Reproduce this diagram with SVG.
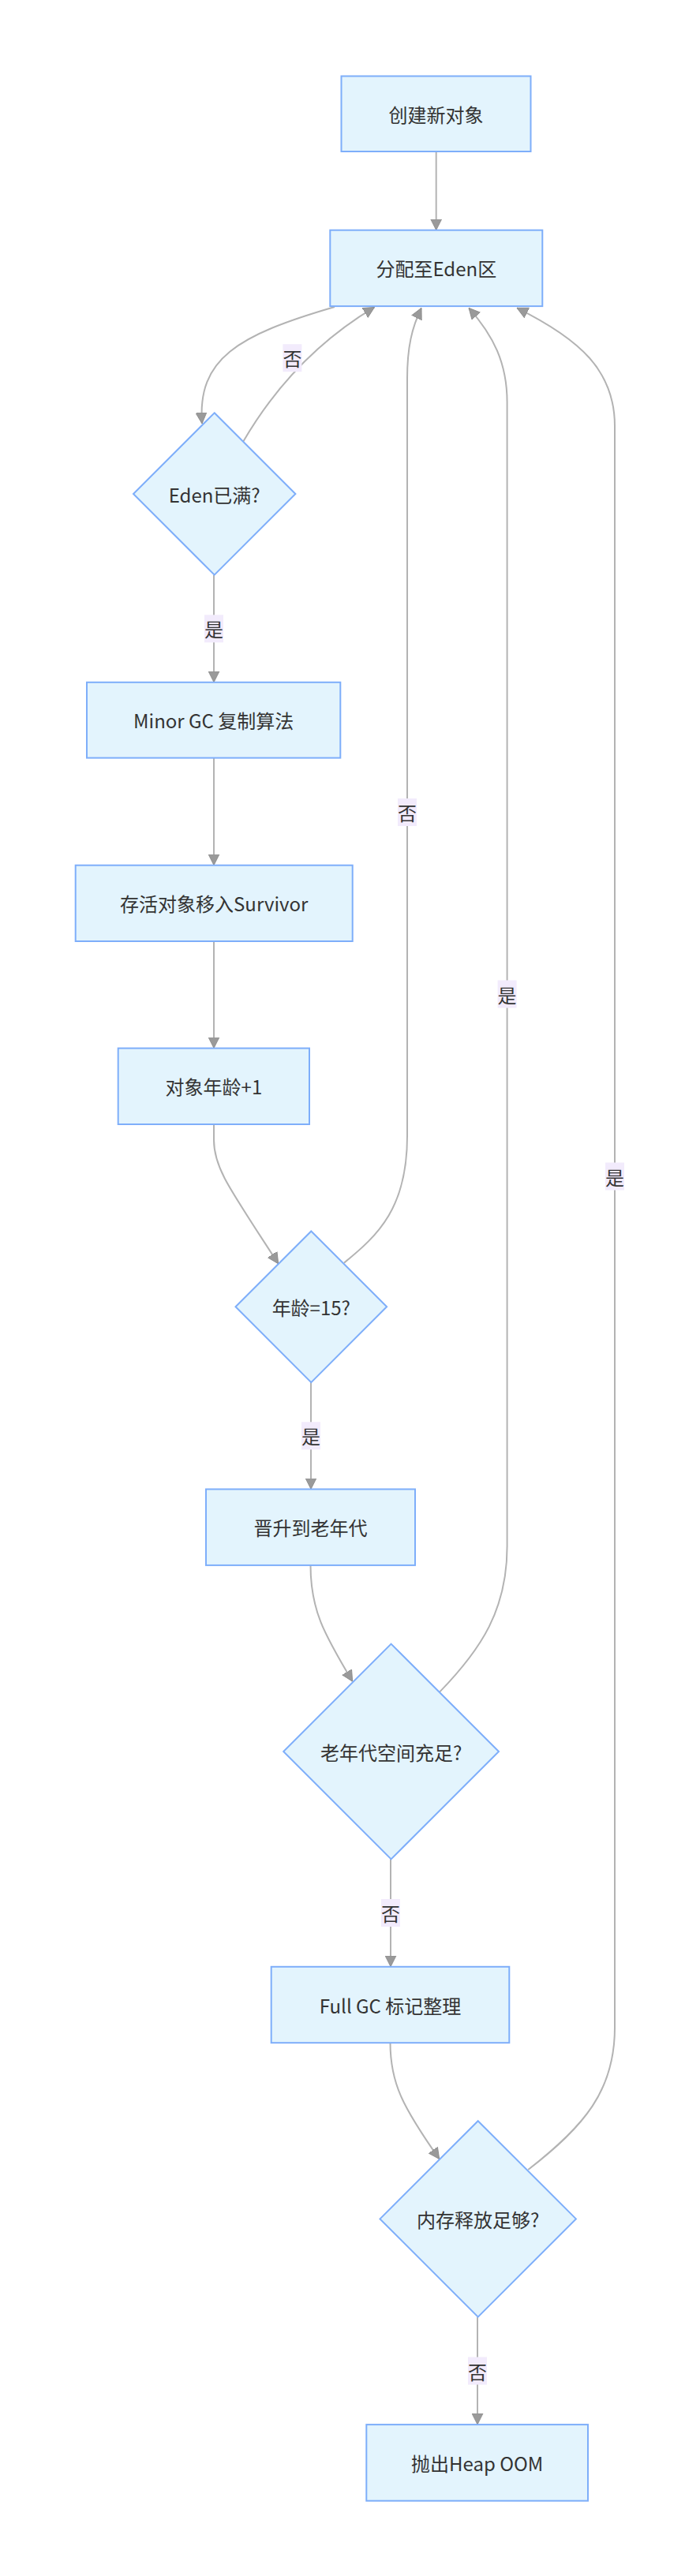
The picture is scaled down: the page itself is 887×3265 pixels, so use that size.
<svg xmlns="http://www.w3.org/2000/svg" width="887" height="3265" viewBox="0 0 887 3265">
<style>
.node rect, .node polygon { fill: #e3f4fd; stroke: #7eaefa; stroke-width: 2; }
.node text { font-family: "Noto Sans CJK SC", "Noto Sans", sans-serif; font-size: 24px; fill: #333333; text-anchor: middle; dominant-baseline: central; }
.edge { fill: none; stroke: #b3b3b3; stroke-width: 2; marker-end: url(#arrow); }
.lbl rect { fill: #f2ebfc; stroke: none; }
.lbl text { font-family: "Noto Sans CJK SC", "Noto Sans", sans-serif; font-size: 24px; fill: #333333; text-anchor: middle; dominant-baseline: central; }
</style>
<defs>
<marker id="arrow" viewBox="0 0 10 10" refX="10" refY="5" markerWidth="14" markerHeight="15" markerUnits="userSpaceOnUse" orient="auto">
<path d="M0,0 L10,5 L0,10 z" fill="#9a9a9a" stroke="#8a8a8a" stroke-width="0.6"/>
</marker>
</defs>
<rect x="0" y="0" width="887" height="3265" fill="#ffffff"/>
<g id="connectors">
<path class="edge" d="M552.7,192 L552.7,291.7"/>
<path class="edge" d="M424,389 C300,425 250,455 256,537"/>
<path class="edge" d="M308,560 C340,505 390,440 474.5,389.4"/>
<path class="edge" d="M271,728.7 L271,864.8"/>
<path class="edge" d="M271,960.6 L271,1096.7"/>
<path class="edge" d="M271,1193 L271,1328.6"/>
<path class="edge" d="M271,1425 L271,1445 C271,1480 290,1505 352.7,1601.8"/>
<path class="edge" d="M436,1600.6 C480,1565 516,1530 516,1440 L516,480 C516,440 522,415 534,390.3"/>
<path class="edge" d="M394,1752 L394,1887.5"/>
<path class="edge" d="M393.5,1984 C393.5,2040 410,2070 446.7,2131.2"/>
<path class="edge" d="M557,2144.6 C610,2090 642.6,2040 642.6,1960 L642.6,510 C642.6,460 625,425 594,390.3"/>
<path class="edge" d="M495,2356.2 L495,2492.8"/>
<path class="edge" d="M494.5,2589 C494.5,2640 510,2670 556.7,2736.5"/>
<path class="edge" d="M669.3,2750 C740,2695 779,2650 779,2570 L779,540 C779,470 735,430 655,390.3"/>
<path class="edge" d="M605,2936.7 L605,3073"/>
</g>
<g id="edge-labels">
<g class="lbl"><rect x="358.4" y="436.2" width="24" height="35"/><text x="370.4" y="453.7">否</text></g>
<g class="lbl"><rect x="259" y="779.3" width="24" height="35"/><text x="271" y="796.8">是</text></g>
<g class="lbl"><rect x="504" y="1012" width="24" height="35"/><text x="516" y="1029.5">否</text></g>
<g class="lbl"><rect x="382" y="1802.3" width="24" height="35"/><text x="394" y="1819.8">是</text></g>
<g class="lbl"><rect x="630.6" y="1242.5" width="24" height="35"/><text x="642.6" y="1260">是</text></g>
<g class="lbl"><rect x="483" y="2407" width="24" height="35"/><text x="495" y="2424.5">否</text></g>
<g class="lbl"><rect x="767" y="1473.5" width="24" height="35"/><text x="779" y="1491">是</text></g>
<g class="lbl"><rect x="593" y="2987.5" width="24" height="35"/><text x="605" y="3005">否</text></g>
</g>
<g id="n1" class="node"><rect x="432.5" y="96.5" width="240" height="95.5"/><text x="552.6" y="144.3">创建新对象</text></g>
<g id="n2" class="node"><rect x="418.3" y="291.7" width="269" height="96.4"/><text x="552.8" y="339.9">分配至Eden区</text></g>
<g id="n3" class="node"><polygon points="271.7,523.3 374.4,626 271.7,728.7 169,626"/><text x="271.7" y="626">Eden已满?</text></g>
<g id="n4" class="node"><rect x="110" y="864.8" width="321.3" height="95.8"/><text x="270.7" y="912.7">Minor GC 复制算法</text></g>
<g id="n5" class="node"><rect x="95.7" y="1096.7" width="351" height="96.3"/><text x="271.2" y="1144.9">存活对象移入Survivor</text></g>
<g id="n6" class="node"><rect x="149.7" y="1328.6" width="242.3" height="96.4"/><text x="270.9" y="1376.8">对象年龄+1</text></g>
<g id="n7" class="node"><polygon points="394.3,1560.5 490.1,1656.3 394.3,1752.1 298.5,1656.3"/><text x="394.3" y="1656.3">年龄=15?</text></g>
<g id="n8" class="node"><rect x="261" y="1887.5" width="265" height="96.4"/><text x="393.5" y="1935.7">晋升到老年代</text></g>
<g id="n9" class="node"><polygon points="495.6,2083.6 632,2220 495.6,2356.4 359.2,2220"/><text x="495.6" y="2220">老年代空间充足?</text></g>
<g id="n10" class="node"><rect x="343.7" y="2492.8" width="301.6" height="96.4"/><text x="494.5" y="2541">Full GC 标记整理</text></g>
<g id="n11" class="node"><polygon points="605.7,2688.2 729.9,2812.4 605.7,2936.6 481.5,2812.4"/><text x="605.7" y="2812.4">内存释放足够?</text></g>
<g id="n12" class="node"><rect x="464.3" y="3073.1" width="280.7" height="96.6"/><text x="604.7" y="3121.4">抛出Heap OOM</text></g>
</svg>
